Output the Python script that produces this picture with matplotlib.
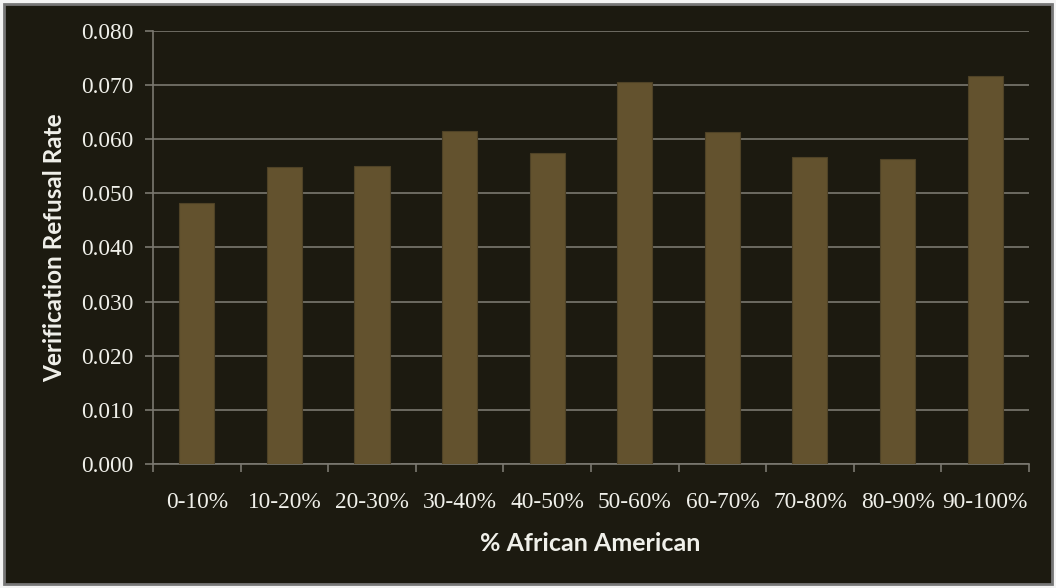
import matplotlib
matplotlib.use('Agg')
import matplotlib.pyplot as plt
import numpy as np
from matplotlib.patches import Rectangle

# refusal rate by neighbourhood share of African American residents
groups = ['0-10%', '10-20%', '20-30%', '30-40%', '40-50%',
          '50-60%', '60-70%', '70-80%', '80-90%', '90-100%']
refusal_rate = [0.0482, 0.0548, 0.0551, 0.0616, 0.0574,
                0.0706, 0.0614, 0.0568, 0.0563, 0.0716]

bg = '#1c1a10'
bar_color = '#63522e'
line_gray = '#7a7870'
text_color = '#f0f0ea'

fig = plt.figure(figsize=(10.56, 5.88), dpi=100)
fig.patch.set_facecolor('#f4f4f4')
fig.patches.append(Rectangle((0.004, 0.006), 0.992, 0.987, transform=fig.transFigure,
                             facecolor=bg, edgecolor='#777777', linewidth=2.0, zorder=-1))

ax = fig.add_axes([0.1449, 0.2109, 0.8295, 0.7364])
ax.set_facecolor(bg)

x = np.arange(len(groups))
ax.bar(x, refusal_rate, width=0.4, color=bar_color, edgecolor='#4f4226',
       linewidth=0.8, zorder=3)

ax.set_xlim(-0.5, len(groups) - 0.5)
ax.set_ylim(0, 0.08)
ax.set_yticks(np.arange(0, 0.0801, 0.01))
ax.set_yticklabels(['{:.3f}'.format(v) for v in np.arange(0, 0.0801, 0.01)])
ax.yaxis.grid(True, color=line_gray, linewidth=1.2, zorder=1)

# category labels centred, tick marks on the boundaries
ax.set_xticks(x)
ax.set_xticklabels(groups)
ax.set_xticks(np.arange(-0.5, len(groups)), minor=True)
ax.tick_params(axis='x', which='major', length=0, pad=20)
ax.tick_params(axis='x', which='minor', length=6, color=line_gray, width=1.2)
ax.tick_params(axis='y', length=6, color=line_gray, width=1.2, pad=8)

for lbl in ax.get_xticklabels() + ax.get_yticklabels():
    lbl.set_fontfamily('Liberation Serif')
    lbl.set_fontsize(16.8)
    lbl.set_color(text_color)

for side in ['top', 'right']:
    ax.spines[side].set_visible(False)
for side in ['left', 'bottom']:
    ax.spines[side].set_color(line_gray)
    ax.spines[side].set_linewidth(1.2)

fig.text(0.559, 0.076, '% African American', ha='center', va='center',
         fontfamily='Lato', fontweight='bold', fontsize=18, color=text_color)
fig.text(0.052, 0.578, 'Verification Refusal Rate', ha='center', va='center',
         rotation=90, fontfamily='Lato', fontweight='bold', fontsize=17.5,
         color=text_color)

fig.savefig('out.png', dpi=100, facecolor=fig.get_facecolor())
